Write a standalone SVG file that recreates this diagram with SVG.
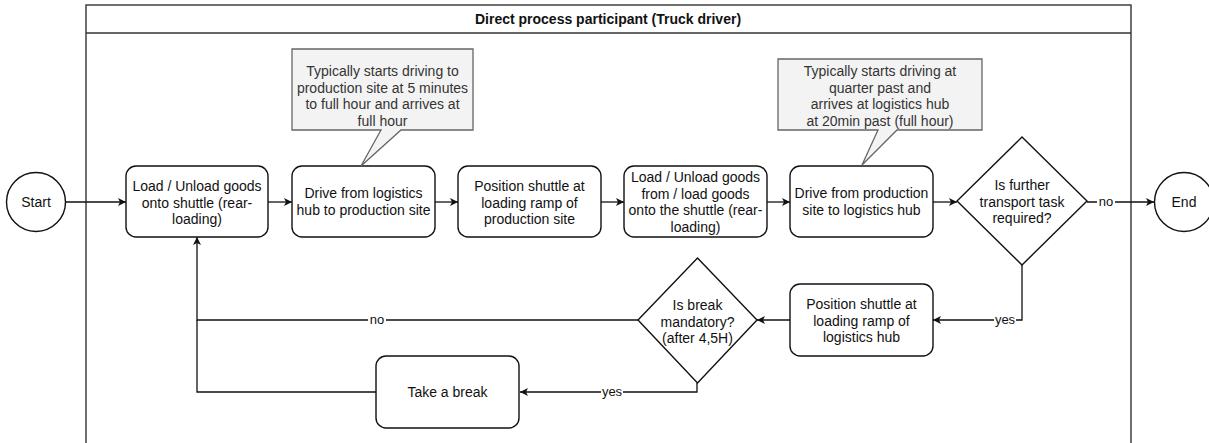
<svg xmlns="http://www.w3.org/2000/svg" width="1209" height="443" viewBox="0 0 1209 443">
  <style>
    .t { font-family: "Liberation Sans", Arial, sans-serif; font-size: 14px; fill: #111; text-anchor: middle; }
    .title { font-weight: bold; }
    .note-t { fill: #333; }
    .lbl { font-family: "Liberation Sans", Arial, sans-serif; font-size: 13px; fill: #111; text-anchor: middle; }
    .box { fill: #fff; stroke: #111; stroke-width: 1.4; }
    .note { fill: #f3f3f3; stroke: #666; stroke-width: 1.3; }
    .pool { fill: #fff; stroke: #333; stroke-width: 1.4; }
    .edge { fill: none; stroke: #111; stroke-width: 1.3; }
    .arr { marker-end: url(#arrow); }
    .lblbg { fill: #fff; }
  </style>
  <defs>
    <marker id="arrow" viewBox="0 0 10 10" refX="10" refY="5" markerWidth="9" markerHeight="8" markerUnits="userSpaceOnUse" orient="auto">
      <path d="M0,0 L10,5 L0,10 L2.5,5 Z" fill="#111"/>
    </marker>
  </defs>

  <rect width="1209" height="443" fill="#fff"/>

  <!-- pool with header -->
  <g id="pool">
    <rect class="pool" x="86" y="5" width="1045" height="460"/>
    <line x1="86" y1="33" x2="1131" y2="33" stroke="#333" stroke-width="1.4"/>
    <text class="t title" x="608" y="24">Direct process participant (Truck driver)</text>
  </g>

  <!-- connectors -->
  <g id="connectors">
    <path class="edge arr" d="M66,202 H126"/>
    <path class="edge arr" d="M268,202 H292"/>
    <path class="edge arr" d="M435,202 H458"/>
    <path class="edge arr" d="M601,202 H624"/>
    <path class="edge arr" d="M767,202 H790"/>
    <path class="edge arr" d="M933,202 H957"/>
    <path class="edge arr" d="M1087,202 H1154"/>
    <path class="edge arr" d="M1022,265 V320 H933"/>
    <path class="edge arr" d="M790,320 H757"/>
    <path class="edge arr" d="M638,320 H197 V237"/>
    <path class="edge arr" d="M697,383 V392 H520"/>
    <path class="edge" d="M376,392 H197 V320"/>

    <rect class="lblbg" x="1097" y="194" width="18" height="15"/>
    <text class="lbl" x="1106" y="206">no</text>
    <rect class="lblbg" x="994" y="312" width="22" height="15"/>
    <text class="lbl" x="1005" y="324">yes</text>
    <rect class="lblbg" x="368" y="312" width="18" height="15"/>
    <text class="lbl" x="377" y="324">no</text>
    <rect class="lblbg" x="601" y="384" width="22" height="15"/>
    <text class="lbl" x="612" y="396">yes</text>
  </g>

  <!-- nodes -->
  <g id="start">
    <circle class="box" cx="36" cy="202" r="29.5"/>
    <text class="t" x="36" y="207">Start</text>
  </g>

  <g id="load-unload-hub">
    <rect class="box" x="126" y="166" width="142" height="71" rx="10"/>
    <text class="t" x="197" y="191">Load / Unload goods</text>
    <text class="t" x="197" y="207.5">onto shuttle (rear-</text>
    <text class="t" x="197" y="224">loading)</text>
  </g>

  <g id="drive-to-production">
    <rect class="box" x="292" y="166" width="143" height="71" rx="10"/>
    <text class="t" x="363.5" y="198">Drive from logistics</text>
    <text class="t" x="363.5" y="214.5">hub to production site</text>
  </g>

  <g id="position-production">
    <rect class="box" x="458" y="166" width="143" height="71" rx="10"/>
    <text class="t" x="529.5" y="191">Position shuttle at</text>
    <text class="t" x="529.5" y="207.5">loading ramp of</text>
    <text class="t" x="529.5" y="224">production site</text>
  </g>

  <g id="load-unload-production">
    <rect class="box" x="624" y="166" width="143" height="71" rx="10"/>
    <text class="t" x="695.5" y="182">Load / Unload goods</text>
    <text class="t" x="695.5" y="198.5">from / load goods</text>
    <text class="t" x="695.5" y="215">onto the shuttle (rear-</text>
    <text class="t" x="695.5" y="231.5">loading)</text>
  </g>

  <g id="drive-to-hub">
    <rect class="box" x="790" y="166" width="143" height="71" rx="10"/>
    <text class="t" x="861.5" y="198">Drive from production</text>
    <text class="t" x="861.5" y="214.5">site to logistics hub</text>
  </g>

  <g id="further-task">
    <polygon class="box" points="1022,137 1087,201 1022,265 957,201"/>
    <text class="t" x="1022" y="190">Is further</text>
    <text class="t" x="1022" y="206.5">transport task</text>
    <text class="t" x="1022" y="223">required?</text>
  </g>

  <g id="end">
    <circle class="box" cx="1184" cy="202" r="29.5"/>
    <text class="t" x="1184" y="207">End</text>
  </g>

  <g id="position-hub">
    <rect class="box" x="790" y="284" width="143" height="72" rx="10"/>
    <text class="t" x="861.5" y="309">Position shuttle at</text>
    <text class="t" x="861.5" y="325.5">loading ramp of</text>
    <text class="t" x="861.5" y="342">logistics hub</text>
  </g>

  <g id="break-mandatory">
    <polygon class="box" points="697.5,258 757,320 697.5,383 638,320"/>
    <text class="t" x="697.5" y="310">Is break</text>
    <text class="t" x="697.5" y="326.5">mandatory?</text>
    <text class="t" x="697.5" y="343">(after 4,5H)</text>
  </g>

  <g id="take-break">
    <rect class="box" x="376" y="356" width="143" height="72" rx="10"/>
    <text class="t" x="447.5" y="397">Take a break</text>
  </g>

  <g id="note-production">
    <path class="note" d="M292,49 H473 V130 H401 L361,166 L381,130 H292 Z"/>
    <text class="t note-t" x="382.5" y="76">Typically starts driving to</text>
    <text class="t note-t" x="382.5" y="92.5">production site at 5 minutes</text>
    <text class="t note-t" x="382.5" y="109">to full hour and arrives at</text>
    <text class="t note-t" x="382.5" y="125.5">full hour</text>
  </g>

  <g id="note-hub">
    <path class="note" d="M778,59 H982 V130 H897 L862,165 L878,130 H778 Z"/>
    <text class="t note-t" x="880" y="76">Typically starts driving at</text>
    <text class="t note-t" x="880" y="92.5">quarter past and</text>
    <text class="t note-t" x="880" y="109">arrives at logistics hub</text>
    <text class="t note-t" x="880" y="125.5">at 20min past (full hour)</text>
  </g>
</svg>
